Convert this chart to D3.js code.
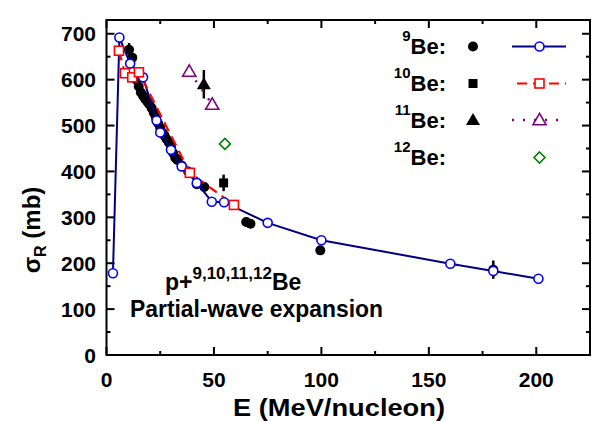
<!DOCTYPE html>
<html><head><meta charset="utf-8">
<script src="https://cdn.jsdelivr.net/npm/d3@7"></script>
<style>body{margin:0;background:#fff}svg{display:block;font-family:"Liberation Sans",Arial,sans-serif;font-weight:bold}</style>
</head><body><svg id="c" width="600" height="421"></svg>
<script>
// ---- data ----
const xTicks = [0, 50, 100, 150, 200];
const yTicks = [0, 100, 200, 300, 400, 500, 600, 700];
// 9Be theory (partial-wave expansion): [E, sigma]
const be9TheoryE = [3, 6, 11, 17, 23.3, 25, 30, 35, 42, 49, 54.7, 75, 100, 160, 180, 201];
const be9TheoryS = [178, 692, 635, 605, 511, 485, 447, 411, 375, 334, 333, 288, 250, 199, 183, 166];
// 10Be theory
const be10TheoryE = [5.8, 8.6, 12, 15.1, 38.8, 59.3];
const be10TheoryS = [663, 614, 605, 616, 397, 327];
// 11Be theory
const be11TheoryE = [38.5, 49.2];
const be11TheoryS = [618, 546];
// 12Be theory
const be12TheoryE = [55.1];
const be12TheoryS = [460];
// 9Be experiment: E, sigma, error
const be9ExpE = [10.5, 12, 14, 15, 16, 17, 18, 19, 20, 21, 22, 23, 24, 25, 26, 27, 28, 29, 30, 31, 32, 33, 35, 38, 42, 45.5, 65, 67, 99.5, 180];
const be9ExpS = [665, 648, 600, 585, 572, 565, 558, 552, 546, 538, 528, 518, 505, 495, 485, 478, 470, 463, 455, 440, 430, 425, 413, 400, 372, 366, 290, 286, 228, 186];
const be9ExpErr = [15, 0, 0, 0, 0, 0, 0, 0, 0, 0, 0, 0, 0, 0, 0, 0, 0, 0, 0, 0, 0, 0, 0, 0, 0, 10, 8, 8, 0, 20];
// 10Be experiment
const be10ExpE = [54.5];
const be10ExpS = [375];
const be10ExpErr = [18];
// 11Be experiment
const be11ExpE = [45.3];
const be11ExpS = [590];
const be11ExpErr = [31];

const zip = (a, b) => a.map((v, i) => [v, b[i]]);

// ---- layout ----
const svg = d3.select("#c");
const x = d3.scaleLinear().domain([0, 225]).range([106.5, 590]);
const y = d3.scaleLinear().domain([0, 730]).range([355, 20]);

const navy = "#000080", blue = "#0000ff", red = "#ff0000", purple = "#800080", green = "#008000";

const g = svg.append("g");
const xMinor = d3.range(25, 225, 50);
const yMinor = d3.range(50, 730, 100);
function tickLines(sel, vals, len, isX, side) {
  vals.forEach(v => {
    if (isX) {
      const px = x(v);
      if (side === "b") sel.append("line").attr("x1", px).attr("x2", px).attr("y1", 355).attr("y2", 355 - len);
      else sel.append("line").attr("x1", px).attr("x2", px).attr("y1", 20).attr("y2", 20 + len);
    } else {
      const py = y(v);
      if (side === "l") sel.append("line").attr("y1", py).attr("y2", py).attr("x1", 106.5).attr("x2", 106.5 + len);
      else sel.append("line").attr("y1", py).attr("y2", py).attr("x1", 590).attr("x2", 590 - len);
    }
  });
}
const tg = g.append("g").attr("stroke", "#000").attr("stroke-width", 2);
tickLines(tg, xTicks, 8, true, "b"); tickLines(tg, xMinor, 4, true, "b");
tickLines(tg, xTicks, 8, true, "t"); tickLines(tg, xMinor, 4, true, "t");
tickLines(tg, yTicks, 8, false, "l"); tickLines(tg, yMinor, 4, false, "l");
tickLines(tg, yTicks, 8, false, "r"); tickLines(tg, yMinor, 4, false, "r");
g.append("rect").attr("x", 106.5).attr("y", 20).attr("width", 590 - 106.5).attr("height", 335)
  .attr("fill", "none").attr("stroke", "#000").attr("stroke-width", 2);

// tick labels
g.selectAll(".xl").data(xTicks).enter().append("text")
  .attr("x", d => x(d)).attr("y", 387).attr("text-anchor", "middle").attr("font-size", 21).text(d => d);
g.selectAll(".yl").data(yTicks).enter().append("text")
  .attr("x", 96).attr("y", d => y(d) + 7.5).attr("text-anchor", "end").attr("font-size", 21).text(d => d);

// axis titles
g.append("text").attr("x", 339).attr("y", 416).attr("text-anchor", "middle").attr("font-size", 23)
  .attr("textLength", 212).attr("lengthAdjust", "spacingAndGlyphs").text("E (MeV/nucleon)");
const yt = g.append("text").attr("transform", "translate(40,230) rotate(-90)").attr("text-anchor", "middle").attr("font-size", 24);
yt.append("tspan").text("σ");
yt.append("tspan").attr("font-size", 16).attr("dy", 6).text("R");
yt.append("tspan").attr("dy", -6).text(" (mb)");

// annotation
const an = g.append("text").attr("x", 165).attr("y", 290).attr("font-size", 23);
an.append("tspan").text("p+");
an.append("tspan").attr("font-size", 17).attr("dy", -11).text("9,10,11,12");
an.append("tspan").attr("dy", 11).text("Be");
g.append("text").attr("x", 130).attr("y", 317).attr("font-size", 23)
  .attr("textLength", 253).attr("lengthAdjust", "spacingAndGlyphs").text("Partial-wave expansion");

// ---- experimental data ----
function errBars(E, S, Er) {
  E.forEach((e, i) => {
    if (Er[i] > 0) g.append("line").attr("x1", x(e)).attr("x2", x(e)).attr("y1", y(S[i] - Er[i])).attr("y2", y(S[i] + Er[i]))
      .attr("stroke", "#000").attr("stroke-width", 2.5);
  });
}
errBars(be9ExpE, be9ExpS, be9ExpErr);
errBars(be10ExpE, be10ExpS, be10ExpErr);
errBars(be11ExpE, be11ExpS, be11ExpErr);
g.selectAll(".e9").data(zip(be9ExpE, be9ExpS)).enter().append("circle")
  .attr("cx", d => x(d[0])).attr("cy", d => y(d[1])).attr("r", 5).attr("fill", "#000");
g.selectAll(".e10").data(zip(be10ExpE, be10ExpS)).enter().append("rect")
  .attr("x", d => x(d[0]) - 4.5).attr("y", d => y(d[1]) - 4.5).attr("width", 9).attr("height", 9).attr("fill", "#000");
const tri = d3.symbol().type(d3.symbolTriangle);
g.selectAll(".e11").data(zip(be11ExpE, be11ExpS)).enter().append("path")
  .attr("d", tri.size(85)()).attr("transform", d => `translate(${x(d[0])},${y(d[1]) + 1})`).attr("fill", "#000");

// ---- theory ----
const line = d3.line().x(d => x(d[0])).y(d => y(d[1]));
g.append("path").attr("d", line(zip(be9TheoryE, be9TheoryS))).attr("fill", "none").attr("stroke", navy).attr("stroke-width", 2);
g.append("path").attr("d", line(zip(be10TheoryE, be10TheoryS))).attr("fill", "none").attr("stroke", red).attr("stroke-width", 2.2).attr("stroke-dasharray", "10,6");
g.append("path").attr("d", line(zip(be11TheoryE, be11TheoryS))).attr("fill", "none").attr("stroke", purple).attr("stroke-width", 2.5).attr("stroke-dasharray", "2,9");

function openCircles(E, S, col) {
  g.append("g").selectAll("circle").data(zip(E, S)).enter().append("circle")
    .attr("cx", d => x(d[0])).attr("cy", d => y(d[1])).attr("r", 4.5).attr("fill", "#fff").attr("stroke", col).attr("stroke-width", 1.6);
}
function openSquares(E, S, col) {
  g.append("g").selectAll("rect").data(zip(E, S)).enter().append("rect")
    .attr("x", d => x(d[0]) - 4.5).attr("y", d => y(d[1]) - 4.5).attr("width", 9).attr("height", 9)
    .attr("fill", "#fff").attr("stroke", col).attr("stroke-width", 1.6);
}
function openTris(E, S, col) {
  g.append("g").selectAll("path").data(zip(E, S)).enter().append("path")
    .attr("d", tri.size(75)()).attr("transform", d => `translate(${x(d[0])},${y(d[1]) + 1})`)
    .attr("fill", "#fff").attr("stroke", col).attr("stroke-width", 1.6);
}
function openDiamonds(E, S, col) {
  g.append("g").selectAll("path").data(zip(E, S)).enter().append("path")
    .attr("d", "M0,-5.5L5.5,0L0,5.5L-5.5,0Z").attr("transform", d => `translate(${x(d[0])},${y(d[1])})`)
    .attr("fill", "#fff").attr("stroke", col).attr("stroke-width", 1.6);
}
openCircles(be9TheoryE, be9TheoryS, blue);
openSquares(be10TheoryE, be10TheoryS, red);
openTris(be11TheoryE, be11TheoryS, purple);
openDiamonds(be12TheoryE, be12TheoryS, green);

// ---- legend ----
const legRows = [
  {sup: "9", base: 54},
  {sup: "10", base: 91},
  {sup: "11", base: 128},
  {sup: "12", base: 165}
];
const lg = svg.append("g");
legRows.forEach(r => {
  const t = lg.append("text").attr("x", 446).attr("y", r.base).attr("text-anchor", "end").attr("font-size", 22);
  t.append("tspan").attr("font-size", 15).attr("dy", -13).text(r.sup);
  t.append("tspan").attr("dy", 13).text("Be:");
});
const mx = 473, lx1 = 512, lx2 = 566, lc = 539.5;
// row 1
lg.append("circle").attr("cx", mx).attr("cy", 46.5).attr("r", 5).attr("fill", "#000");
lg.append("line").attr("x1", lx1).attr("x2", lx2).attr("y1", 46.5).attr("y2", 46.5).attr("stroke", navy).attr("stroke-width", 2);
lg.append("circle").attr("cx", lc).attr("cy", 46.5).attr("r", 4.5).attr("fill", "#fff").attr("stroke", blue).attr("stroke-width", 1.6);
// row 2
lg.append("rect").attr("x", mx - 4.5).attr("y", 83.5 - 4.5).attr("width", 9).attr("height", 9).attr("fill", "#000");
lg.append("line").attr("x1", lx1).attr("x2", lx2).attr("y1", 83.5).attr("y2", 83.5).attr("stroke", red).attr("stroke-width", 2.2).attr("stroke-dasharray", "10,6").attr("stroke-dashoffset", -5);
lg.append("rect").attr("x", lc - 4.5).attr("y", 83.5 - 4.5).attr("width", 9).attr("height", 9).attr("fill", "#fff").attr("stroke", red).attr("stroke-width", 1.6);
// row 3
lg.append("path").attr("d", tri.size(85)()).attr("transform", `translate(${mx},121)`).attr("fill", "#000");
lg.append("line").attr("x1", lx1).attr("x2", lx2).attr("y1", 120).attr("y2", 120).attr("stroke", purple).attr("stroke-width", 2.5).attr("stroke-dasharray", "2,9");
lg.append("path").attr("d", tri.size(75)()).attr("transform", `translate(${lc},121)`).attr("fill", "#fff").attr("stroke", purple).attr("stroke-width", 1.6);
// row 4
lg.append("path").attr("d", "M0,-5.5L5.5,0L0,5.5L-5.5,0Z").attr("transform", `translate(${lc},157.5)`).attr("fill", "#fff").attr("stroke", green).attr("stroke-width", 1.6);
</script></body></html>
